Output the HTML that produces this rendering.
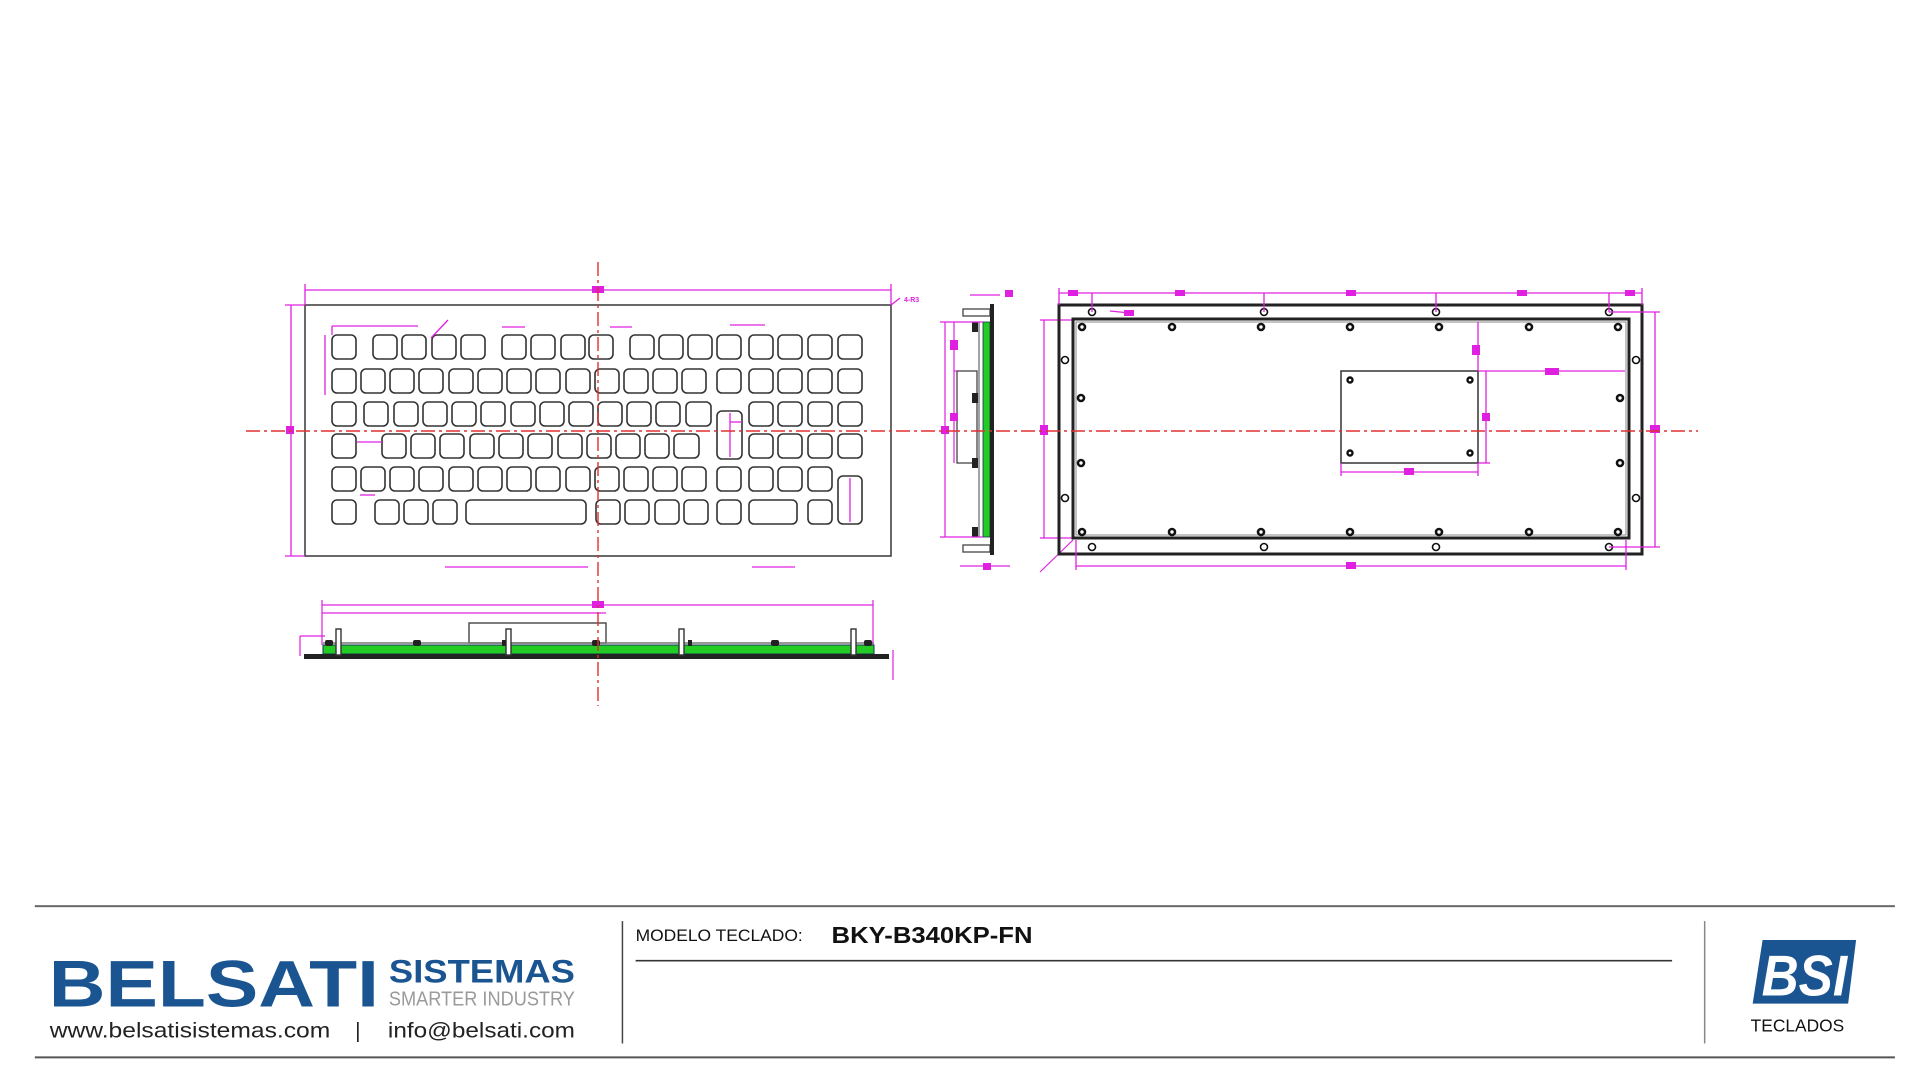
<!DOCTYPE html>
<html><head><meta charset="utf-8"><style>
html,body{margin:0;padding:0;background:#fff;width:1920px;height:1080px;overflow:hidden}
svg{position:absolute;left:0;top:0}
</style></head><body>
<svg id="s" width="1920" height="1080" viewBox="0 0 1920 1080" xmlns="http://www.w3.org/2000/svg">
<rect width="1920" height="1080" fill="#fff"/>
<g id="keys" fill="none" stroke="#333" stroke-width="1.6"></g>
<rect x="305" y="305" width="586" height="251" fill="none" stroke="#444" stroke-width="1.6"/>
<g stroke="#e020e0" stroke-width="1.3" fill="none">
<line x1="305" y1="290" x2="891" y2="290"/>
<line x1="305" y1="284" x2="305" y2="305"/><line x1="891" y1="284" x2="891" y2="305"/>
<line x1="291" y1="305" x2="291" y2="556"/>
<line x1="285" y1="305" x2="305" y2="305"/><line x1="285" y1="556" x2="305" y2="556"/>
<line x1="332" y1="326" x2="418" y2="326"/><line x1="332" y1="326" x2="332" y2="335"/>
<line x1="325" y1="335" x2="325" y2="395"/>
<line x1="431" y1="338" x2="448" y2="320"/>
<line x1="502" y1="327" x2="525" y2="327"/>
<line x1="610" y1="327" x2="632" y2="327"/>
<line x1="730" y1="325" x2="765" y2="325"/>
<line x1="730" y1="422" x2="742" y2="422" /><line x1="730" y1="413" x2="730" y2="457"/>
<line x1="850" y1="478" x2="850" y2="522"/>
<line x1="445" y1="567" x2="588" y2="567"/>
<line x1="752" y1="567" x2="795" y2="567"/>
<line x1="357" y1="442" x2="382" y2="442"/>
<line x1="360" y1="495" x2="375" y2="495"/>
<line x1="891" y1="305" x2="900" y2="298"/>
</g>
<g fill="#e020e0" font-family="Liberation Sans,sans-serif" font-size="7" font-weight="bold">
<rect x="592" y="286" width="12" height="7"/><text x="904" y="302">4-R3</text>
<rect x="286" y="426" width="8" height="8"/>
</g>
<g>
<line x1="322" y1="605" x2="873" y2="605" stroke="#e020e0" stroke-width="1.3"/>
<line x1="322" y1="613" x2="606" y2="613" stroke="#e020e0" stroke-width="1.3"/>
<line x1="322" y1="600" x2="322" y2="645" stroke="#e020e0" stroke-width="1.2"/>
<line x1="873" y1="600" x2="873" y2="645" stroke="#e020e0" stroke-width="1.2"/>
<line x1="300" y1="636" x2="300" y2="656" stroke="#e020e0" stroke-width="1.2"/>
<line x1="300" y1="636" x2="325" y2="636" stroke="#e020e0" stroke-width="1.2"/>
<line x1="893" y1="650" x2="893" y2="680" stroke="#e020e0" stroke-width="1.2"/>
<rect x="592" y="601" width="12" height="7" fill="#e020e0"/>
<rect x="469" y="623" width="137" height="20" fill="none" stroke="#444" stroke-width="1.4"/>
<line x1="323" y1="643" x2="874" y2="643" stroke="#777" stroke-width="1.5"/>
<rect x="323" y="645" width="551" height="9" fill="#22cc22" stroke="#135" stroke-width="1"/>
<rect x="304" y="654" width="585" height="5" fill="#222"/>
<g fill="#fff" stroke="#333" stroke-width="1.4">
<rect x="336" y="629" width="5" height="26"/><rect x="506" y="629" width="5" height="26"/>
<rect x="679" y="629" width="5" height="26"/><rect x="851" y="629" width="5" height="26"/>
</g>
<g fill="#222">
<rect x="325" y="640" width="8" height="6" rx="2"/><rect x="413" y="640" width="8" height="6" rx="2"/>
<rect x="502" y="640" width="4" height="6"/><rect x="592" y="640" width="8" height="6" rx="2"/>
<rect x="688" y="640" width="4" height="6"/><rect x="771" y="640" width="8" height="6" rx="2"/>
<rect x="864" y="640" width="8" height="6" rx="2"/>
</g>
</g>
<g>
<rect x="963" y="309" width="27" height="7" fill="#fff" stroke="#444" stroke-width="1.3"/>
<rect x="963" y="545" width="27" height="7" fill="#fff" stroke="#444" stroke-width="1.3"/>
<rect x="957" y="371" width="20" height="92" fill="none" stroke="#444" stroke-width="1.3"/>
<line x1="979" y1="322" x2="979" y2="537" stroke="#666" stroke-width="1.2"/>
<rect x="983" y="322" width="7" height="215" fill="#22cc22" stroke="#135" stroke-width="0.8"/>
<rect x="990" y="304" width="4" height="251" fill="#222"/>
<g fill="#222"><rect x="972" y="322" width="6" height="10"/><rect x="972" y="393" width="6" height="10"/><rect x="972" y="458" width="6" height="10"/><rect x="972" y="527" width="6" height="10"/></g>
<g stroke="#e020e0" stroke-width="1.2" fill="none">
<line x1="945" y1="322" x2="945" y2="537"/><line x1="940" y1="322" x2="983" y2="322"/><line x1="940" y1="537" x2="983" y2="537"/>
<line x1="954" y1="322" x2="954" y2="371"/><line x1="954" y1="371" x2="957" y2="371"/>
<line x1="954" y1="371" x2="954" y2="463"/>
<line x1="970" y1="295" x2="1000" y2="295"/><line x1="960" y1="566" x2="1010" y2="566"/>
<line x1="1044" y1="320" x2="1044" y2="538"/><line x1="1040" y1="320" x2="1073" y2="320"/><line x1="1040" y1="538" x2="1073" y2="538"/>
<line x1="1040" y1="572" x2="1073" y2="540"/>
</g>
<g fill="#e020e0"><rect x="1005" y="290" width="8" height="7"/><rect x="983" y="563" width="8" height="7"/><rect x="941" y="426" width="8" height="8"/><rect x="950" y="413" width="8" height="8"/><rect x="950" y="340" width="8" height="10"/><rect x="1040" y="425" width="8" height="10"/></g>
</g>
<g>
<rect x="1059" y="305" width="583" height="249" fill="none" stroke="#222" stroke-width="3"/>
<rect x="1073" y="319" width="556" height="219" fill="none" stroke="#222" stroke-width="3"/>
<rect x="1076" y="322" width="550" height="213" fill="none" stroke="#888" stroke-width="1"/>
<rect x="1341" y="371" width="137" height="92" fill="none" stroke="#333" stroke-width="1.5"/>
<g id="holes"></g>
<g stroke="#e020e0" stroke-width="1.3" fill="none">
<line x1="1059" y1="293" x2="1642" y2="293"/>
<line x1="1059" y1="288" x2="1059" y2="305"/><line x1="1642" y1="288" x2="1642" y2="305"/>
<line x1="1092" y1="293" x2="1092" y2="312"/><line x1="1264" y1="293" x2="1264" y2="312"/><line x1="1436" y1="293" x2="1436" y2="312"/><line x1="1609" y1="293" x2="1609" y2="312"/>
<line x1="1655" y1="312" x2="1655" y2="547"/><line x1="1609" y1="312" x2="1660" y2="312"/><line x1="1609" y1="547" x2="1660" y2="547"/>
<line x1="1076" y1="566" x2="1626" y2="566"/><line x1="1076" y1="540" x2="1076" y2="570"/><line x1="1626" y1="540" x2="1626" y2="570"/>
<line x1="1341" y1="472" x2="1478" y2="472"/><line x1="1341" y1="463" x2="1341" y2="476"/><line x1="1478" y1="463" x2="1478" y2="476"/>
<line x1="1478" y1="371" x2="1625" y2="371"/>
<line x1="1486" y1="371" x2="1486" y2="463"/><line x1="1478" y1="463" x2="1490" y2="463"/>
<line x1="1478" y1="322" x2="1478" y2="371"/>
<line x1="1110" y1="311" x2="1130" y2="313"/>
</g>
<g fill="#e020e0"><rect x="1068" y="290" width="10" height="6"/><rect x="1175" y="290" width="10" height="6"/><rect x="1346" y="290" width="10" height="6"/><rect x="1517" y="290" width="10" height="6"/><rect x="1625" y="290" width="10" height="6"/><rect x="1346" y="562" width="10" height="7"/><rect x="1404" y="468" width="10" height="7"/><rect x="1545" y="368" width="14" height="7"/><rect x="1482" y="413" width="8" height="8"/><rect x="1472" y="345" width="8" height="10"/><rect x="1650" y="425" width="10" height="8"/><rect x="1124" y="310" width="10" height="6"/></g>
</g>
<g stroke="#e03030" stroke-width="1.4" fill="none" stroke-dasharray="14,4,3,4">
<line x1="598" y1="262" x2="598" y2="706"/>
<line x1="246" y1="431" x2="1698" y2="431"/>
</g>
<g transform="scale(0.9947)">
<rect x="35" y="910" width="1870" height="2" fill="#666"/>
<rect x="35" y="1062" width="1870" height="2" fill="#555"/>
<rect x="625" y="926" width="1.5" height="123" fill="#444"/>
<rect x="1713" y="926" width="1.5" height="123" fill="#888"/>
<rect x="639" y="965" width="1042" height="1.6" fill="#333"/>
<text x="639" y="946" font-family="Liberation Sans,sans-serif" font-size="17" fill="#111" textLength="168" lengthAdjust="spacingAndGlyphs">MODELO TECLADO:</text>
<text x="836" y="948" font-family="Liberation Sans,sans-serif" font-size="23" font-weight="bold" fill="#111" textLength="202" lengthAdjust="spacingAndGlyphs">BKY-B340KP-FN</text>
<text x="49" y="1012" font-family="Liberation Sans,sans-serif" font-size="66" font-weight="bold" fill="#1a5592" textLength="332" lengthAdjust="spacingAndGlyphs">BELSATI</text>
<text x="391" y="988" font-family="Liberation Sans,sans-serif" font-size="33" font-weight="bold" fill="#1a5592" textLength="187" lengthAdjust="spacingAndGlyphs">SISTEMAS</text>
<text x="391" y="1011" font-family="Liberation Sans,sans-serif" font-size="20" fill="#9a9a9a" textLength="187" lengthAdjust="spacingAndGlyphs">SMARTER INDUSTRY</text>
<text x="50" y="1043" font-family="Liberation Sans,sans-serif" font-size="21" fill="#222" textLength="282" lengthAdjust="spacingAndGlyphs">www.belsatisistemas.com</text>
<text x="357" y="1043" font-family="Liberation Sans,sans-serif" font-size="21" fill="#222">|</text>
<text x="390" y="1043" font-family="Liberation Sans,sans-serif" font-size="21" fill="#222" textLength="188" lengthAdjust="spacingAndGlyphs">info@belsati.com</text>
<polygon points="1772,945 1866,945 1858,1009 1762,1009" fill="#1a5592"/>
<text x="1771" y="1001" font-family="Liberation Sans,sans-serif" font-size="58" font-weight="bold" font-style="italic" fill="#fff" textLength="86" lengthAdjust="spacingAndGlyphs">BSI</text>
<text x="1760" y="1037" font-family="Liberation Sans,sans-serif" font-size="18" fill="#111" textLength="94" lengthAdjust="spacingAndGlyphs">TECLADOS</text>
</g>
</svg>
<script>
var NS="http://www.w3.org/2000/svg";
var kg=document.getElementById("keys");
function k(x,y,w,h){var r=document.createElementNS(NS,"rect");r.setAttribute("x",x);r.setAttribute("y",y);r.setAttribute("width",w||24);r.setAttribute("height",h||24);r.setAttribute("rx",5);kg.appendChild(r);}
var Y=[335,369,402,434,467,500];
[332,373,402,432,461,502,531,561,589,630,659,688,717,749,778,808,838].forEach(function(x){k(x,Y[0]);});
[332,361,390,419,449,478,507,536,566,595,624,653,682,717,749,778,808,838].forEach(function(x){k(x,Y[1]);});
[332,364,394,423,452,481,511,540,569,598,627,656].forEach(function(x){k(x,Y[2]);});
k(686,Y[2],25);k(717,411,25,48);[749,778,808,838].forEach(function(x){k(x,Y[2]);});
[332,382,411,440,470,499,528,558,587,616,645].forEach(function(x){k(x,Y[3]);});
k(674,Y[3],25);[749,778,808,838].forEach(function(x){k(x,Y[3]);});
[332,361,390,419,449,478,507,536,566,595,624,653,682,717,749,778,808].forEach(function(x){k(x,Y[4]);});
k(838,476,24,48);
[332,375,404,433].forEach(function(x){k(x,Y[5]);});
k(466,Y[5],120);[596,625,655,684,717].forEach(function(x){k(x,Y[5]);});
k(749,Y[5],48);k(808,Y[5]);
var hg=document.getElementById("holes");
function c(x,y,r,sw){var e=document.createElementNS(NS,"circle");e.setAttribute("cx",x);e.setAttribute("cy",y);e.setAttribute("r",r);e.setAttribute("fill","#fff");e.setAttribute("stroke","#111");e.setAttribute("stroke-width",sw);hg.appendChild(e);}
[1092,1264,1436,1609].forEach(function(x){c(x,312,3.5,1.6);c(x,547,3.5,1.6);});
[360,498].forEach(function(y){c(1065,y,3.5,1.6);c(1636,y,3.5,1.6);});
[1082,1172,1261,1350,1439,1529,1618].forEach(function(x){c(x,327,3,2.6);c(x,532,3,2.6);});
[398,463].forEach(function(y){c(1081,y,3,2.6);c(1620,y,3,2.6);});
[[1350,380],[1470,380],[1350,453],[1470,453]].forEach(function(p){c(p[0],p[1],2.5,2.4);});
</script>
</body></html>
